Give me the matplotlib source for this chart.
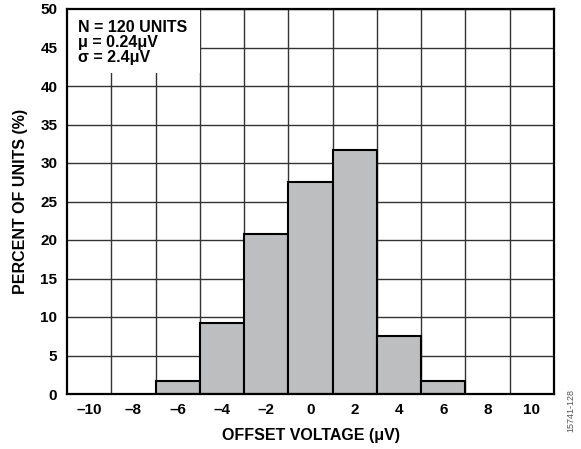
import matplotlib
matplotlib.use("Agg")
import matplotlib.pyplot as plt
from matplotlib.patches import Rectangle

# histogram data (120 units)
bin_centers = [-6, -4, -2, 0, 2, 4, 6]
percent_units = [1.67, 9.17, 20.83, 27.5, 31.67, 7.5, 1.67]
x_ticks = [-10, -8, -6, -4, -2, 0, 2, 4, 6, 8, 10]
y_ticks = [0, 5, 10, 15, 20, 25, 30, 35, 40, 45, 50]
stats_lines = ["N = 120 UNITS", "\u03bc = 0.24\u03bcV", "\u03c3 = 2.4\u03bcV"]

plt.rcParams['font.family'] = ['Liberation Sans', 'DejaVu Sans']
plt.rcParams['font.weight'] = 'bold'

fig = plt.figure(figsize=(5.81, 4.49), dpi=100)
ax = fig.add_axes([67 / 581, 1 - 394 / 449, (554 - 67) / 581, (394 - 9) / 449])

ax.bar(bin_centers, percent_units, width=2, color='#BDBEC0',
       edgecolor='black', linewidth=1.5, zorder=3)

ax.set_xlim(-11, 11)
ax.set_ylim(0, 50)
ax.set_xticks(x_ticks)
ax.set_xticklabels([str(t).replace('-', '\u2013') for t in x_ticks])
ax.set_xticks(range(-9, 10, 2), minor=True)
ax.set_yticks(y_ticks)
ax.tick_params(which='both', length=0, labelsize=11)
ax.tick_params(axis='x', pad=6.5)
ax.tick_params(axis='y', pad=7)

# grid at bin edges and every 5%
ax.grid(False)
ax.grid(which='minor', axis='x', color='#333333', linewidth=1.0, zorder=1)
ax.grid(which='major', axis='y', color='#333333', linewidth=1.0, zorder=1)
for s in ax.spines.values():
    s.set_linewidth(1.6)
    s.set_zorder(5)

ax.set_xlabel('OFFSET VOLTAGE (\u03bcV)', fontsize=11.5, fontweight='bold', labelpad=8)
ax.set_ylabel('PERCENT OF UNITS (%)', fontsize=11.5, fontweight='bold', labelpad=9)

# stats box hiding the grid
ax.add_patch(Rectangle((0, 1 - 64 / 385), 133 / 487, 64 / 385, transform=ax.transAxes,
                       facecolor='white', edgecolor='none', zorder=2))
ax.text(0.022, 0.972, "\n".join(stats_lines), transform=ax.transAxes, va='top', ha='left',
        fontsize=11.5, fontweight='bold', linespacing=1.02, zorder=4)

fig.text(0.983, 0.085, '15741-128', rotation=90, fontsize=6.5, color='#555555',
         fontweight='normal', ha='center', va='center')

fig.savefig('out.png', dpi=100)
